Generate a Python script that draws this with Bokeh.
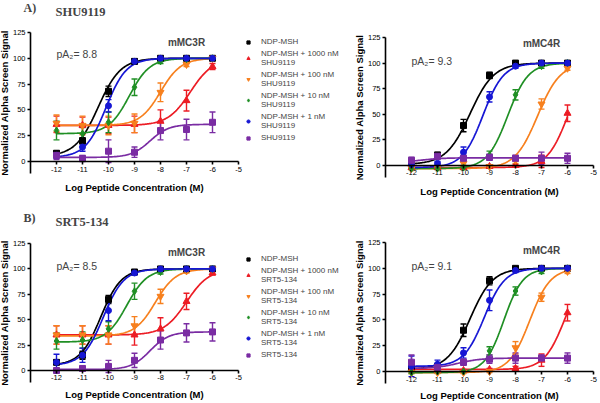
import numpy as np
from bokeh.plotting import figure
from bokeh.models import (Range1d, FixedTicker, Label, Legend, LegendItem,
                          ColumnDataSource, Whisker, TeeHead)
from bokeh.layouts import column, row
from bokeh.embed import file_html
from bokeh.resources import INLINE

# ---------------- shared axis data ----------------
log_conc = [-12, -11, -10, -9, -8, -7, -6]
x_ticks = [-12, -11, -10, -9, -8, -7, -6, -5]
x_tick_labels = ["-12", "-11", "-10", "-9", "-8", "-7", "-6", "-5"]
y_ticks = [0, 25, 50, 75, 100, 125]
y_tick_labels = ["0", "25", "50", "75", "100", "125"]
x_title = "Log Peptide Concentration (M)"
y_title = "Normalized Alpha Screen Signal"

# ---------------- A) SHU9119 - mMC3R ----------------
a3_ndp = [8, 20, 68, 97, 100, 100, 100]
a3_ndp_sem = [2, 3, 5, 2, 1, 1, 1]
a3_1000 = [36, 35, 35, 36, 39, 59, 92]
a3_1000_sem = [8, 8, 8, 8, 11, 10, 3]
a3_100 = [37, 35, 35, 37, 67, 94, 100]
a3_100_sem = [8, 9, 9, 9, 9, 2, 1]
a3_10 = [30, 27, 38, 72, 97, 99, 100]
a3_10_sem = [9, 6, 10, 8, 2, 1, 1]
a3_1 = [6, 14, 54, 97, 100, 100, 100]
a3_1_sem = [3, 4, 6, 2, 1, 1, 1]
a3_ant = [6, 3, 10, 9, 30, 31, 38]
a3_ant_sem = [4, 3, 11, 5, 9, 10, 10]
# fitted sigmoid: (bottom, top, logEC50, hill)
a3_fits = [(5, 100, -10.4, 1.0), (35, 100, -6.85, 1.0), (35, 100, -8.0, 1.1),
           (27, 100, -9.2, 1.1), (4, 100, -10.1, 1.1), (4, 36, -8.4, 1.2)]

# ---------------- A) SHU9119 - mMC4R ----------------
a4_ndp = [4, 10, 39, 88, 100, 100, 100]
a4_ndp_sem = [2, 3, 6, 3, 1, 1, 1]
a4_1000 = [-2, -2, -2, -1, 0, 4, 51]
a4_1000_sem = [1, 1, 1, 1, 1, 6, 8]
a4_100 = [-3, -2, 2, -1, 5, 60, 95]
a4_100_sem = [1, 1, 3, 1, 3, 5, 2]
a4_10 = [-3, -3, -2, 10, 69, 97, 100]
a4_10_sem = [1, 1, 2, 4, 5, 2, 1]
a4_1 = [1, 2, 13, 67, 97, 100, 100]
a4_1_sem = [2, 2, 5, 5, 2, 1, 1]
a4_ant = [5, 9, 7, 8, 7, 7, 7]
a4_ant_sem = [3, 3, 3, 3, 3, 6, 5]
a4_fits = [(1, 100, -9.75, 0.95), (-2, 100, -5.98, 1.1), (-3, 100, -7.15, 1.0),
           (-3, 100, -8.3, 1.1), (-2, 100, -9.25, 1.1), (3, 7.5, -11.6, 1.0)]

# ---------------- B) SRT5-134 - mMC3R ----------------
b3_ndp = [8, 15, 70, 97, 100, 100, 100]
b3_ndp_sem = [2, 4, 4, 2, 1, 1, 1]
b3_1000 = [35, 35, 35, 35, 41, 68, 96]
b3_1000_sem = [9, 9, 9, 10, 11, 8, 2]
b3_100 = [35, 35, 35, 44, 73, 98, 100]
b3_100_sem = [9, 9, 9, 9, 7, 2, 1]
b3_10 = [29, 30, 41, 78, 97, 100, 100]
b3_10_sem = [8, 8, 7, 8, 2, 1, 1]
b3_1 = [8, 15, 59, 96, 100, 100, 100]
b3_1_sem = [8, 7, 10, 2, 1, 1, 1]
b3_ant = [0, 2, 4, 10, 30, 37, 38]
b3_ant_sem = [1, 2, 6, 7, 9, 9, 9]
b3_fits = [(5, 100, -10.3, 1.1), (35, 100, -7.0, 1.0), (34, 100, -8.2, 1.1),
           (28, 100, -9.3, 1.1), (5, 100, -10.2, 1.1), (1, 38, -8.4, 1.2)]

# ---------------- B) SRT5-134 - mMC4R ----------------
b4_ndp = [3, 5, 40, 88, 100, 100, 100]
b4_ndp_sem = [2, 2, 6, 4, 1, 1, 1]
b4_1000 = [2, 1, 1, 2, 3, 11, 57]
b4_1000_sem = [1, 1, 1, 1, 2, 6, 8]
b4_100 = [-1, -1, -1, 0, 23, 72, 97]
b4_100_sem = [1, 1, 1, 1, 6, 4, 2]
b4_10 = [-1, 0, 0, 20, 78, 97, 100]
b4_10_sem = [1, 1, 1, 4, 4, 2, 1]
b4_1 = [5, 7, 18, 69, 98, 100, 100]
b4_1_sem = [10, 4, 5, 10, 2, 1, 1]
b4_ant = [9, 4, 9, 12, 13, 13, 13]
b4_ant_sem = [7, 3, 3, 4, 5, 3, 5]
b4_fits = [(2, 100, -9.75, 1.0), (2, 100, -6.1, 1.1), (-1, 100, -7.45, 1.1),
           (-1, 100, -8.45, 1.2), (5, 100, -9.2, 1.1), (3, 13, -10.2, 1.0)]

# ---------------- text ----------------
legend_a = ["NDP-MSH", "NDP-MSH + 1000 nM\nSHU9119", "NDP-MSH + 100 nM\nSHU9119",
            "NDP-MSH + 10 nM\nSHU9119", "NDP-MSH + 1 nM\nSHU9119", "SHU9119"]
legend_b = ["NDP-MSH", "NDP-MSH + 1000 nM\nSRT5-134", "NDP-MSH + 100 nM\nSRT5-134",
            "NDP-MSH + 10 nM\nSRT5-134", "NDP-MSH + 1 nM\nSRT5-134", "SRT5-134"]

colors = ["#000000", "#ec1c24", "#f7801e", "#1f8f24", "#1616d4", "#7a2ca3"]
markers = ["square", "triangle", "inverted_triangle", "diamond", "circle", "square"]
msizes = [6, 7, 7, 7, 6, 6]

SANS = "Liberation Sans"
SERIF = "Liberation Serif"
PX_PER_UNIT = 26.0


def sigmoid(xs, fit):
    bottom, top, ec50, hill = fit
    return bottom + (top - bottom) / (1 + 10 ** ((ec50 - xs) * hill))


def header(width, height, letter, letter_y, drug, drug_y):
    h = figure(width=width, height=height, x_range=Range1d(0, width), y_range=Range1d(0, height),
               x_axis_type=None, y_axis_type=None, output_backend="svg",
               toolbar_location=None, min_border=0)
    h.outline_line_color = None
    h.grid.visible = False
    h.add_layout(Label(x=23, y=letter_y, x_units="screen", y_units="screen", text=letter,
                       text_font=SERIF, text_font_style="bold", text_font_size="12px",
                       text_baseline="middle"))
    h.add_layout(Label(x=55, y=drug_y, x_units="screen", y_units="screen", text=drug,
                       text_font=SERIF, text_font_style="bold", text_font_size="12.5px",
                       text_baseline="middle"))
    return h


def make_panel(width, height, axis_offset, y_start, y_end, xlab_standoff,
               means, sems, fits, receptor, receptor_y, pa2, pa2_y,
               legend_labels=None, legend_y=30):
    # the whole canvas is the frame; axes are pinned at x=-13 and y=0
    x_start = -13 - axis_offset / PX_PER_UNIT
    x_end = x_start + width / PX_PER_UNIT
    p = figure(width=width, height=height, x_range=Range1d(x_start, x_end),
               y_range=Range1d(y_start, y_end),
               output_backend="svg", toolbar_location=None, min_border=0)
    p.outline_line_color = None
    p.grid.visible = False
    p.background_fill_color = "white"
    p.border_fill_color = "white"

    for ax in (p.xaxis[0], p.yaxis[0]):
        ax.axis_line_width = 1.6
        ax.major_tick_line_width = 1.6
        ax.major_tick_out = 3
        ax.major_tick_in = 0
        ax.minor_tick_line_color = None
        ax.major_label_text_font = SANS
        ax.major_label_text_font_size = "7.5px"
        ax.major_label_text_color = "black"
        ax.major_label_standoff = 2
        ax.axis_label_text_font = SANS
        ax.axis_label_text_font_style = "bold"
        ax.axis_label_text_font_size = "9.5px"
        ax.axis_label_text_color = "black"
    xa = p.xaxis[0]
    xa.ticker = FixedTicker(ticks=x_ticks)
    xa.major_label_overrides = dict(zip(x_ticks, x_tick_labels))
    xa.fixed_location = 0
    xa.bounds = (-13, -5)
    xa.axis_label = x_title
    xa.axis_label_standoff = xlab_standoff
    ya = p.yaxis[0]
    ya.ticker = FixedTicker(ticks=y_ticks)
    ya.major_label_overrides = dict(zip(y_ticks, y_tick_labels))
    ya.fixed_location = -13
    ya.bounds = (-12, 125)
    ya.axis_label = y_title
    ya.axis_label_standoff = 0

    xs = np.linspace(-12, -6, 161)
    scat = []
    for m, s, fit, c in zip(means, sems, fits, colors):
        p.line(xs, sigmoid(xs, fit), line_color=c, line_width=1.7)
        src = ColumnDataSource(dict(x=log_conc, y=m,
                                    upper=[a + b for a, b in zip(m, s)],
                                    lower=[a - b for a, b in zip(m, s)]))
        w = Whisker(base="x", upper="upper", lower="lower", source=src, dimension="height",
                    line_color=c, line_width=1.4,
                    upper_head=TeeHead(size=6, line_color=c, line_width=1.4),
                    lower_head=TeeHead(size=6, line_color=c, line_width=1.4))
        p.add_layout(w)
    for m, c, mk, sz in zip(means, colors, markers, msizes):
        src = ColumnDataSource(dict(x=log_conc, y=m))
        r = p.scatter("x", "y", source=src, marker=mk, size=sz, fill_color=c, line_color=c)
        scat.append(r)

    p.add_layout(Label(x=-7, y=receptor_y, text=receptor, text_font=SANS, text_font_style="bold",
                       text_font_size="10px", text_align="center", text_baseline="middle"))
    p.add_layout(Label(x=-12, y=pa2_y, text=pa2, text_font=SANS, text_font_size="10.5px",
                       text_align="left", text_baseline="middle"))

    if legend_labels:
        items = [LegendItem(label=lab, renderers=[r]) for lab, r in zip(legend_labels, scat)]
        leg = Legend(items=items, location=(244, legend_y), padding=0, margin=0, spacing=3,
                     glyph_width=8, glyph_height=8, label_standoff=9, label_height=8,
                     label_text_font=SANS, label_text_font_size="8px",
                     label_text_line_height=1.0, border_line_color=None,
                     background_fill_alpha=0)
        p.add_layout(leg, "center")
    return p


LEFT_W = 345
RIGHT_W = 255

head_a = header(600, 20, "A)", 13, "SHU9119", 9)
p1 = make_panel(LEFT_W, 185, 30, -42.6, 136.6, 7,
                [a3_ndp, a3_1000, a3_100, a3_10, a3_1, a3_ant],
                [a3_ndp_sem, a3_1000_sem, a3_100_sem, a3_10_sem, a3_1_sem, a3_ant_sem],
                a3_fits, "mMC3R", 115.5, "pA\u2082= 8.8", 104, legend_a, 63)
p2 = make_panel(RIGHT_W, 185, 40, -39.1, 141.6, 7,
                [a4_ndp, a4_1000, a4_100, a4_10, a4_1, a4_ant],
                [a4_ndp_sem, a4_1000_sem, a4_100_sem, a4_10_sem, a4_1_sem, a4_ant_sem],
                a4_fits, "mMC4R", 119, "pA\u2082= 9.3", 102.5)
head_b = header(600, 23, "B)", 11, "SRT5-134", 7)
p3 = make_panel(LEFT_W, 175, 30, -32.5, 139.8, 5,
                [b3_ndp, b3_1000, b3_100, b3_10, b3_1, b3_ant],
                [b3_ndp_sem, b3_1000_sem, b3_100_sem, b3_10_sem, b3_1_sem, b3_ant_sem],
                b3_fits, "mMC3R", 116, "pA\u2082= 8.5", 103.3, legend_b, 44)
p4 = make_panel(RIGHT_W, 175, 40, -31.0, 138.6, 5,
                [b4_ndp, b4_1000, b4_100, b4_10, b4_1, b4_ant],
                [b4_ndp_sem, b4_1000_sem, b4_100_sem, b4_10_sem, b4_1_sem, b4_ant_sem],
                b4_fits, "mMC4R", 117, "pA\u2082= 9.1", 102.7)

layout = column(head_a, row(p1, p2), head_b, row(p3, p4))
open("out.html", "w").write(file_html(layout, INLINE))
